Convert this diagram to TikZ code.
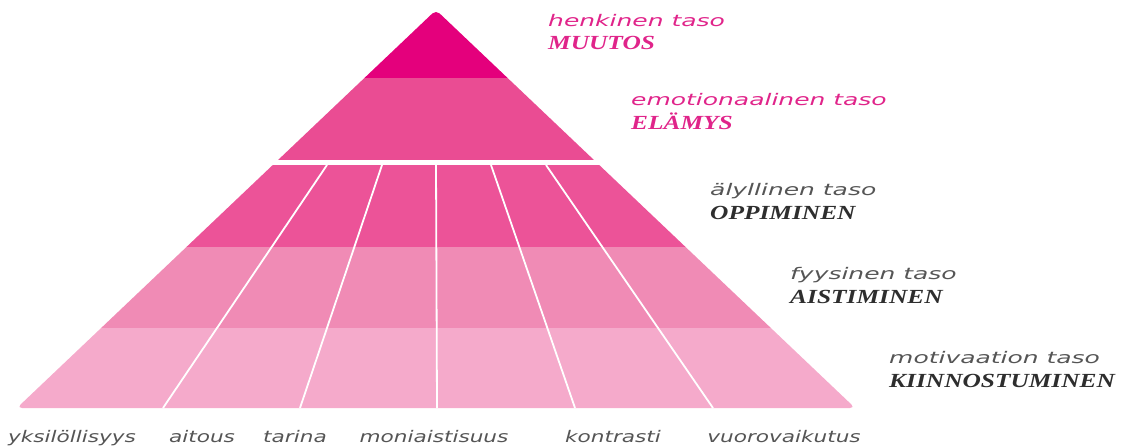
\documentclass[tikz,border=0pt]{standalone}
\usepackage{fontspec}
\setmainfont{Liberation Serif}
\newfontfamily\labfont[FakeStretch=1.56]{DejaVu Sans}
\newfontfamily\botfont[FakeStretch=1.35]{DejaVu Sans}
\newfontfamily\capfont[FakeStretch=1.27]{Liberation Serif}
\definecolor{pkA}{HTML}{E4007C}
\definecolor{pkB}{HTML}{EA4C93}
\definecolor{pkC}{HTML}{EC5398}
\definecolor{pkD}{HTML}{F08BB5}
\definecolor{pkE}{HTML}{F5AACB}
\definecolor{pktext}{HTML}{E0248A}
\definecolor{graytext}{HTML}{555555}
\definecolor{darktext}{HTML}{2E2E2E}
\tikzset{
  lvl/.style={anchor=base west, inner sep=0pt, font=\labfont\itshape\fontsize{16}{18}\selectfont},
  lvlcap/.style={anchor=base west, inner sep=0pt, font=\capfont\bfseries\itshape\fontsize{20}{22}\selectfont},
  bot/.style={anchor=base, inner sep=0pt, text=graytext, font=\botfont\itshape\fontsize{16}{18}\selectfont},
  divider/.style={white, line width=1.8pt},
}
\begin{document}
\begin{tikzpicture}[x=1pt,y=-1pt]
\useasboundingbox (0,0) rectangle (1123,446);
\coordinate (L) at (16.9,408);
\coordinate (T) at (436,10);
\coordinate (R) at (855.1,408);
\begin{scope}
  \clip[rounded corners=5pt] (L) -- (T) -- (R) -- cycle;
  \fill[pkA] (0,0) rectangle (1123,78);
  \fill[pkB] (0,78) rectangle (1123,160);
  \fill[pkC] (0,165) rectangle (1123,247);
  \fill[pkD] (0,247) rectangle (1123,328);
  \fill[pkE] (0,328) rectangle (1123,420);
\end{scope}
% dividers
\coordinate (t1) at (327,165); \coordinate (b1) at (163,408);
\coordinate (t2) at (382,165); \coordinate (b2) at (300,408);
\coordinate (t3) at (436,165); \coordinate (b3) at (437,408);
\coordinate (t4) at (491,165); \coordinate (b4) at (575,408);
\coordinate (t5) at (546,165); \coordinate (b5) at (713,408);
\foreach \i in {1,...,5} \draw[divider] (t\i) -- (b\i);
% level labels
\node[lvl, text=pktext] (h1) at (548,27) {henkinen taso};
\node[lvlcap, text=pktext] (h2) at (548,50) {MUUTOS};
\node[lvl, text=pktext] (e1) at (631,106) {emotionaalinen taso};
\node[lvlcap, text=pktext] (e2) at (631,130) {ELÄMYS};
\node[lvl, text=graytext] (a1) at (710,196) {älyllinen taso};
\node[lvlcap, text=darktext] (a2) at (710,220) {OPPIMINEN};
\node[lvl, text=graytext] (f1) at (790,279) {fyysinen taso};
\node[lvlcap, text=darktext] (f2) at (790,303) {AISTIMINEN};
\node[lvl, text=graytext] (m1) at (889,363) {motivaation taso};
\node[lvlcap, text=darktext] (m2) at (889,387) {KIINNOSTUMINEN};
% bottom labels
\node[bot] (w1) at (72,442) {yksilöllisyys};
\node[bot] (w2) at (202,442) {aitous};
\node[bot] (w3) at (295,442) {tarina};
\node[bot] (w4) at (434,442) {moniaistisuus};
\node[bot] (w5) at (613,442) {kontrasti};
\node[bot] (w6) at (784,442) {vuorovaikutus};
\end{tikzpicture}
\end{document}
